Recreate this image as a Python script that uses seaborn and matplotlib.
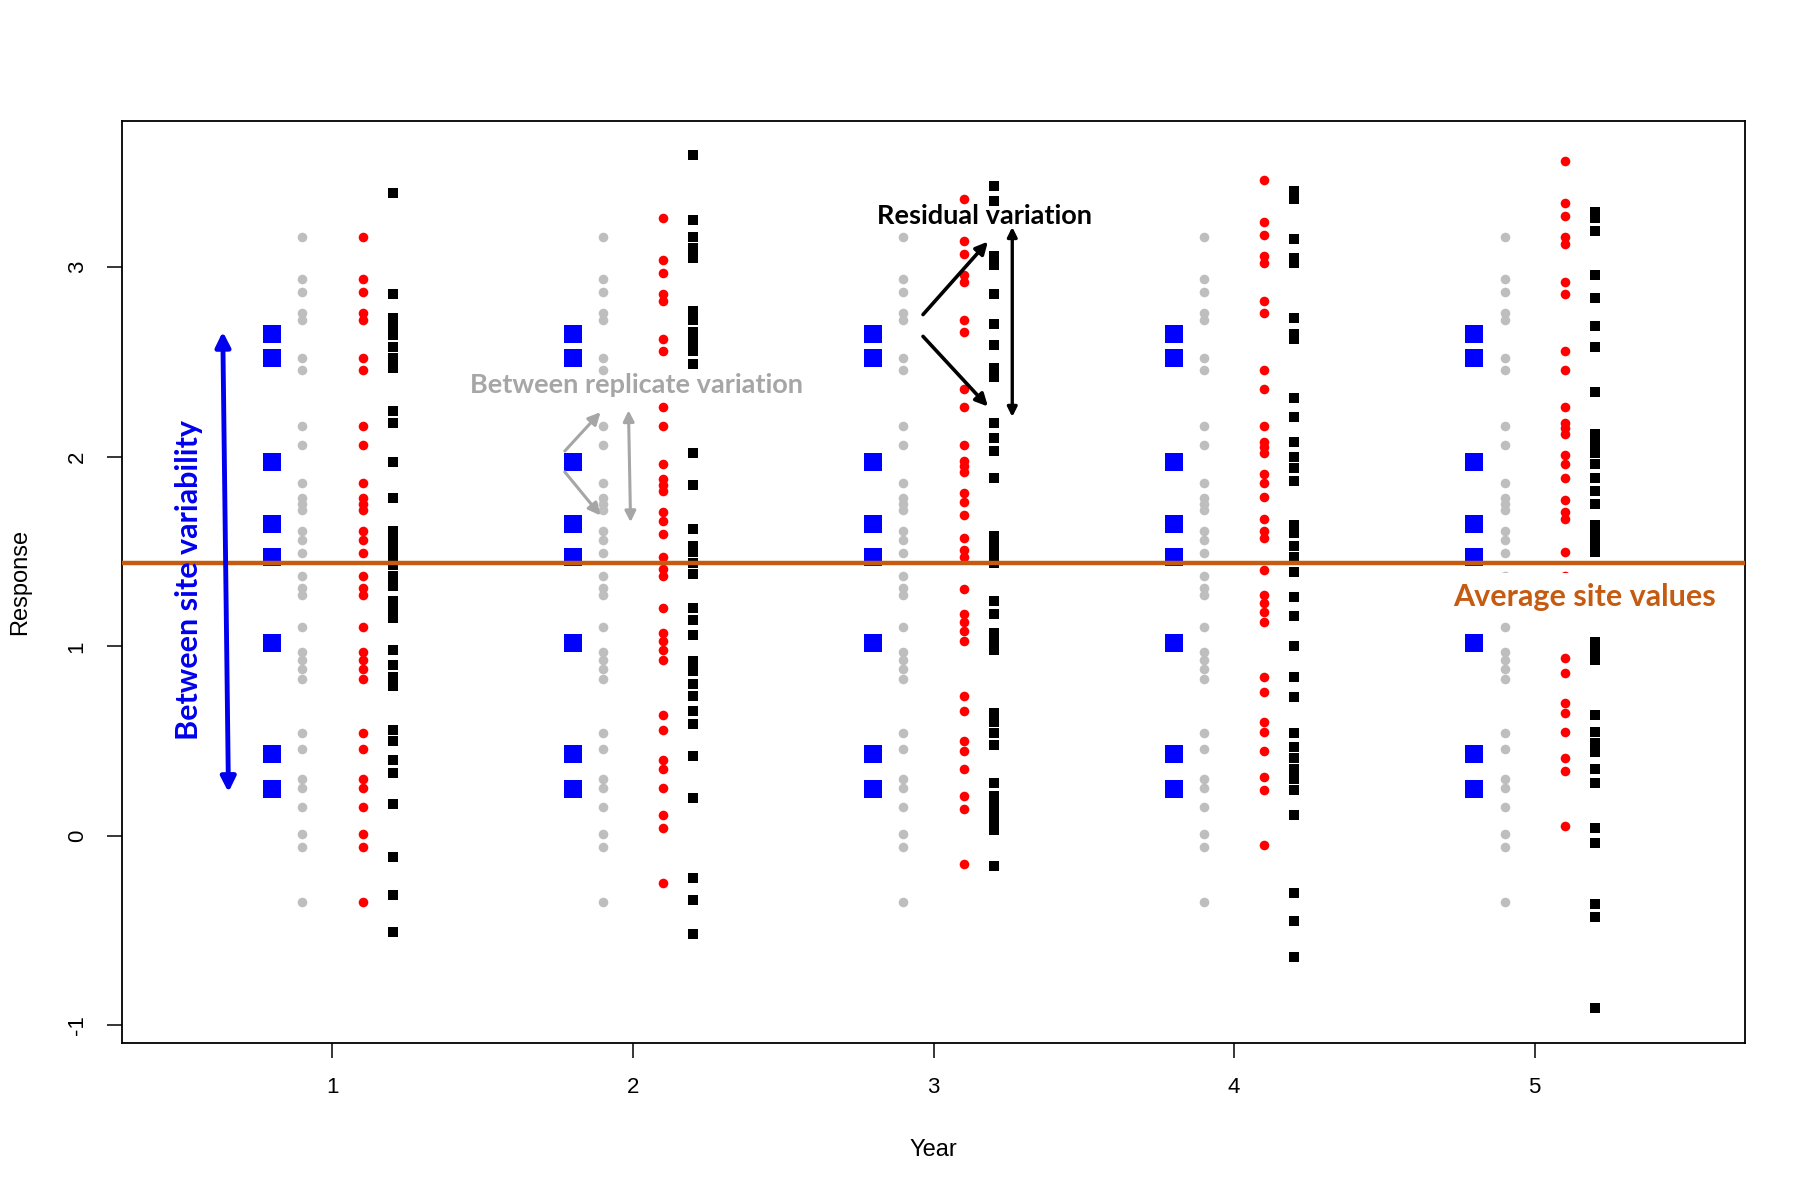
import matplotlib
matplotlib.use("Agg")
import matplotlib.pyplot as plt
import pandas as pd
import seaborn as sns

# values
years = [1, 2, 3, 4, 5]

# blue squares: site values (same each year)
site_values = [2.645, 2.523, 1.973, 1.646, 1.469, 1.017, 0.431, 0.248]

# grey dots: replicate values (same each year)
replicate_values = [3.16, 2.94, 2.87, 2.76, 2.72, 2.52, 2.46, 2.16, 2.06, 1.86, 1.78,
                    1.75, 1.72, 1.61, 1.56, 1.49, 1.37, 1.31, 1.27, 1.10, 0.97, 0.93,
                    0.88, 0.83, 0.54, 0.46, 0.30, 0.25, 0.15, 0.01, -0.06, -0.35]

# red dots, one list per year
red_y1 = [3.16, 2.94, 2.87, 2.76, 2.72, 2.52, 2.46, 2.16, 2.06, 1.86, 1.78, 1.75, 1.72,
          1.61, 1.56, 1.49, 1.37, 1.31, 1.27, 1.10, 0.97, 0.93, 0.88, 0.83, 0.54, 0.46,
          0.30, 0.25, 0.15, 0.01, -0.06, -0.35]
red_y2 = [3.26, 3.04, 2.97, 2.86, 2.82, 2.62, 2.56, 2.26, 2.16, 1.96, 1.88, 1.85, 1.82,
          1.71, 1.66, 1.59, 1.47, 1.41, 1.37, 1.20, 1.07, 1.03, 0.98, 0.93, 0.64, 0.56,
          0.40, 0.35, 0.25, 0.11, 0.04, -0.25]
red_y3 = [3.36, 3.14, 3.07, 2.96, 2.92, 2.72, 2.66, 2.36, 2.26, 2.06, 1.98, 1.95, 1.92,
          1.81, 1.76, 1.69, 1.57, 1.51, 1.47, 1.30, 1.17, 1.13, 1.08, 1.03, 0.74, 0.66,
          0.50, 0.45, 0.35, 0.21, 0.14, -0.15]
red_y4 = [3.46, 3.24, 3.17, 3.06, 3.02, 2.82, 2.76, 2.46, 2.36, 2.16, 2.08, 2.05, 2.02,
          1.91, 1.86, 1.79, 1.67, 1.61, 1.57, 1.40, 1.27, 1.23, 1.18, 1.13, 0.84, 0.76,
          0.60, 0.55, 0.45, 0.31, 0.24, -0.05]
red_y5 = [3.56, 3.34, 3.27, 3.16, 3.12, 2.92, 2.86, 2.56, 2.46, 2.26, 2.18, 2.15, 2.12,
          2.01, 1.96, 1.89, 1.77, 1.71, 1.67, 1.50, 1.37, 1.33, 1.28, 1.23, 0.94, 0.86,
          0.70, 0.65, 0.55, 0.41, 0.34, 0.05]

# black squares, one list per year
black_y1 = [3.39, 2.86, 2.73, 2.69, 2.64, 2.58, 2.52, 2.47, 2.24, 2.18, 1.97, 1.78,
            1.61, 1.56, 1.51, 1.47, 1.43, 1.37, 1.32, 1.24, 1.19, 1.15, 0.98, 0.90,
            0.84, 0.79, 0.56, 0.50, 0.40, 0.33, 0.17, -0.11, -0.31, -0.51]
black_y2 = [3.59, 3.25, 3.16, 3.10, 3.05, 2.77, 2.72, 2.66, 2.61, 2.56, 2.49, 2.02,
            1.85, 1.62, 1.53, 1.50, 1.44, 1.38, 1.20, 1.14, 1.06, 0.92, 0.87, 0.80,
            0.74, 0.66, 0.59, 0.42, 0.20, -0.22, -0.34, -0.52]
black_y3 = [3.43, 3.35, 3.06, 3.01, 2.86, 2.70, 2.59, 2.47, 2.42, 2.18, 2.10, 2.03,
            1.89, 1.58, 1.54, 1.49, 1.44, 1.24, 1.17, 1.07, 1.02, 0.98, 0.65, 0.60,
            0.54, 0.48, 0.28, 0.21, 0.16, 0.11, 0.07, 0.03, -0.16]
black_y4 = [3.40, 3.36, 3.15, 3.05, 3.02, 2.73, 2.65, 2.62, 2.31, 2.21, 2.08, 2.00,
            1.94, 1.87, 1.64, 1.60, 1.53, 1.47, 1.39, 1.26, 1.16, 1.00, 0.84, 0.73,
            0.54, 0.47, 0.41, 0.35, 0.30, 0.24, 0.11, -0.30, -0.45, -0.64]
black_y5 = [3.29, 3.26, 3.19, 2.96, 2.84, 2.69, 2.58, 2.34, 2.12, 2.07, 2.02, 1.96,
            1.89, 1.82, 1.75, 1.64, 1.59, 1.54, 1.50, 1.02, 0.97, 0.93, 0.64, 0.55,
            0.49, 0.44, 0.35, 0.28, 0.04, -0.04, -0.36, -0.43, -0.91]

red_values = [red_y1, red_y2, red_y3, red_y4, red_y5]
black_values = [black_y1, black_y2, black_y3, black_y4, black_y5]

average_site = 1.437

# long table: one row per point, offset beside each year
offsets = {"site": -0.2, "replicate": -0.1, "red": 0.1, "black": 0.2}
rows = []
for i, yr in enumerate(years):
    for v in site_values:
        rows.append((yr, "site", v))
    for v in replicate_values:
        rows.append((yr, "replicate", v))
    for v in red_values[i]:
        rows.append((yr, "red", v))
    for v in black_values[i]:
        rows.append((yr, "black", v))
df = pd.DataFrame(rows, columns=["Year", "group", "Response"])
df["xpos"] = df["Year"] + df["group"].map(offsets)

sns.set_theme(style="white")
plt.rcParams['font.family'] = ['Liberation Sans', 'DejaVu Sans']
plt.rcParams['axes.unicode_minus'] = False

fig = plt.figure(figsize=(18.06, 11.95), dpi=100)
ax = fig.add_axes([0.0676, 0.1272, 0.8986, 0.7715])

styles = {
    "site": dict(marker="s", s=150, color="#0000FF"),
    "replicate": dict(marker="o", s=48, color="#BEBEBE"),
    "red": dict(marker="o", s=48, color="#FF0000"),
    "black": dict(marker="s", s=46, color="black"),
}
for grp, st in styles.items():
    sns.scatterplot(data=df[df["group"] == grp], x="xpos", y="Response",
                    linewidth=0, ax=ax, zorder=2, **st)

# average site line
ax.axhline(average_site, color="#C55A11", lw=3.2, zorder=3)

ax.set_xlim(0.3, 5.7)
ax.set_ylim(-1.093, 3.771)
ax.set_xticks(years)
ax.set_yticks([-1, 0, 1, 2, 3])
ax.tick_params(direction="out", length=10.8, width=1.1, color="black",
               labelsize=16, pad=14, bottom=True, left=True, labelcolor="black")
for lab in ax.get_yticklabels():
    lab.set_rotation(90)
    lab.set_va("center")
for sp in ax.spines.values():
    sp.set_color("black")
    sp.set_linewidth(1.3)

ax.set_xlabel("Year", fontsize=17, color="black")
ax.set_ylabel("Response", fontsize=17, color="black")
ax.xaxis.set_label_coords(0.5, -0.116)
ax.xaxis.label.set_va("center")
ax.yaxis.set_label_coords(-0.063, 0.5)
ax.yaxis.label.set_va("center")

ann_font = ['Lato', 'DejaVu Sans']

# between site variability
ax.annotate("", xy=(0.654, 0.23), xytext=(0.635, 2.66),
            arrowprops=dict(arrowstyle="<|-|>", color="#0000EE", lw=3.5,
                            mutation_scale=22, shrinkA=0, shrinkB=0), zorder=4)
ax.text(0.524, 1.352, "Between site variability", rotation=90, color="#0000EE",
        fontsize=22, fontweight="bold", family=ann_font, ha="center", va="center", zorder=5)

# between replicate variation
grey_ann = "#A6A6A6"
for start, end in [((1.773, 2.03), (1.892, 2.235)), ((1.773, 1.92), (1.892, 1.69))]:
    ax.annotate("", xy=end, xytext=start,
                arrowprops=dict(arrowstyle="-|>", color=grey_ann, lw=2.2,
                                mutation_scale=18, shrinkA=0, shrinkB=0), zorder=4)
ax.annotate("", xy=(1.992, 1.655), xytext=(1.985, 2.245),
            arrowprops=dict(arrowstyle="<|-|>", color=grey_ann, lw=2.2,
                            mutation_scale=16, shrinkA=0, shrinkB=0), zorder=4)
ax.text(2.012, 2.38, "Between replicate variation", color=grey_ann, fontsize=19.5,
        fontweight="bold", family=ann_font, ha="center", va="center", zorder=5)

# residual variation
for start, end in [((2.965, 2.75), (3.181, 3.135)), ((2.965, 2.635), (3.181, 2.265))]:
    ax.annotate("", xy=end, xytext=start,
                arrowprops=dict(arrowstyle="-|>", color="black", lw=2.6,
                                mutation_scale=18, shrinkA=0, shrinkB=0), zorder=4)
ax.annotate("", xy=(3.262, 2.21), xytext=(3.262, 3.212),
            arrowprops=dict(arrowstyle="<|-|>", color="black", lw=2.4,
                            mutation_scale=14, shrinkA=0, shrinkB=0), zorder=4)
ax.text(3.169, 3.27, "Residual variation", color="black", fontsize=19.5,
        fontweight="bold", family=ann_font, ha="center", va="center", zorder=5)

# average site values label, white box hides the points behind it
ax.text(5.165, 1.262, "Average site values", color="#C55A11", fontsize=22,
        fontweight="bold", family=ann_font, ha="center", va="center", zorder=5,
        bbox=dict(facecolor="white", edgecolor="none", pad=7))

fig.savefig("out.png", dpi=100)
